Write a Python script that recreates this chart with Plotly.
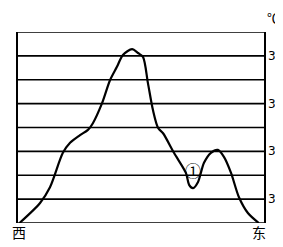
import plotly.graph_objects as go

# distance along the west-east profile (0 = 西, 100 = 东) and temperature (℃)
distance = [1, 9.3, 13.3, 18.5, 21.4, 25.4, 28.6, 30.6, 34.3, 37.5, 40.3, 42.7, 46.4, 48.8,
            50.8, 52.8, 54.8, 56.9, 58.9, 63.3, 68.1, 69.4, 71.0, 73.0, 75.4, 78.2, 81.0,
            83.5, 86.3, 89.5, 93.1, 97.5]
temperature = [29.5, 29.92, 30.25, 30.97, 31.18, 31.34, 31.45, 31.59, 32.01, 32.49, 32.77,
               33.02, 33.14, 33.06, 32.98, 32.43, 31.87, 31.49, 31.38, 30.97, 30.55, 30.30,
               30.23, 30.36, 30.76, 30.97, 31.03, 30.88, 30.55, 30.04, 29.71, 29.5]
grid_levels = [29.5, 30.0, 30.5, 31.0, 31.5, 32.0, 32.5, 33.0, 33.5]
tick_vals = [30, 31, 32, 33]
tick_text = ["30", "31", "32", "33"]

fig = go.Figure()
fig.add_trace(go.Scatter(x=distance, y=temperature, mode="lines",
                         line=dict(color="black", width=2.2, shape="spline", smoothing=0.8),
                         hoverinfo="skip", showlegend=False))

for lv in grid_levels:
    fig.add_shape(type="line", xref="paper", yref="y", x0=0, x1=1, y0=lv, y1=lv,
                  line=dict(color="black", width=1.6), layer="below")
# vertical borders
fig.add_shape(type="line", xref="paper", yref="y", x0=0, x1=0, y0=29.5, y1=33.55,
              line=dict(color="black", width=2))
fig.add_shape(type="line", xref="paper", yref="y", x0=1, x1=1, y0=29.5, y1=33.55,
              line=dict(color="black", width=2))

for v, t in zip(tick_vals, tick_text):
    fig.add_annotation(x=1, y=v, xref="paper", yref="y", text=t, showarrow=False,
                       xanchor="left", yanchor="middle", xshift=1,
                       font=dict(size=12, color="black", family="DejaVu Sans"))

fig.add_annotation(x=1, y=33.5, xref="paper", yref="y", text="℃", showarrow=False,
                   xanchor="left", yanchor="bottom", xshift=0, yshift=3,
                   font=dict(size=13, color="black", family="Noto Sans CJK SC"))
fig.add_annotation(x=0, y=29.5, xref="paper", yref="y", text="西", showarrow=False,
                   xanchor="center", yanchor="top", xshift=2, yshift=3,
                   font=dict(size=14, color="black", family="Noto Sans CJK SC"))
fig.add_annotation(x=97.5, y=29.5, xref="x", yref="y", text="东", showarrow=False,
                   xanchor="center", yanchor="top", yshift=3,
                   font=dict(size=14, color="black", family="Noto Sans CJK SC"))
fig.add_annotation(x=71.0, y=30.62, xref="x", yref="y", text="①", showarrow=False,
                   xanchor="center", yanchor="middle",
                   font=dict(size=16, color="black", family="Noto Sans CJK SC"))

fig.update_xaxes(range=[0, 100], visible=False, fixedrange=True)
fig.update_yaxes(range=[29.5, 33.5], visible=False, fixedrange=True)
fig.update_layout(width=283, height=247, margin=dict(l=9, r=26, t=24, b=32),
                  plot_bgcolor="white", paper_bgcolor="white")
fig.write_html("out.html")
